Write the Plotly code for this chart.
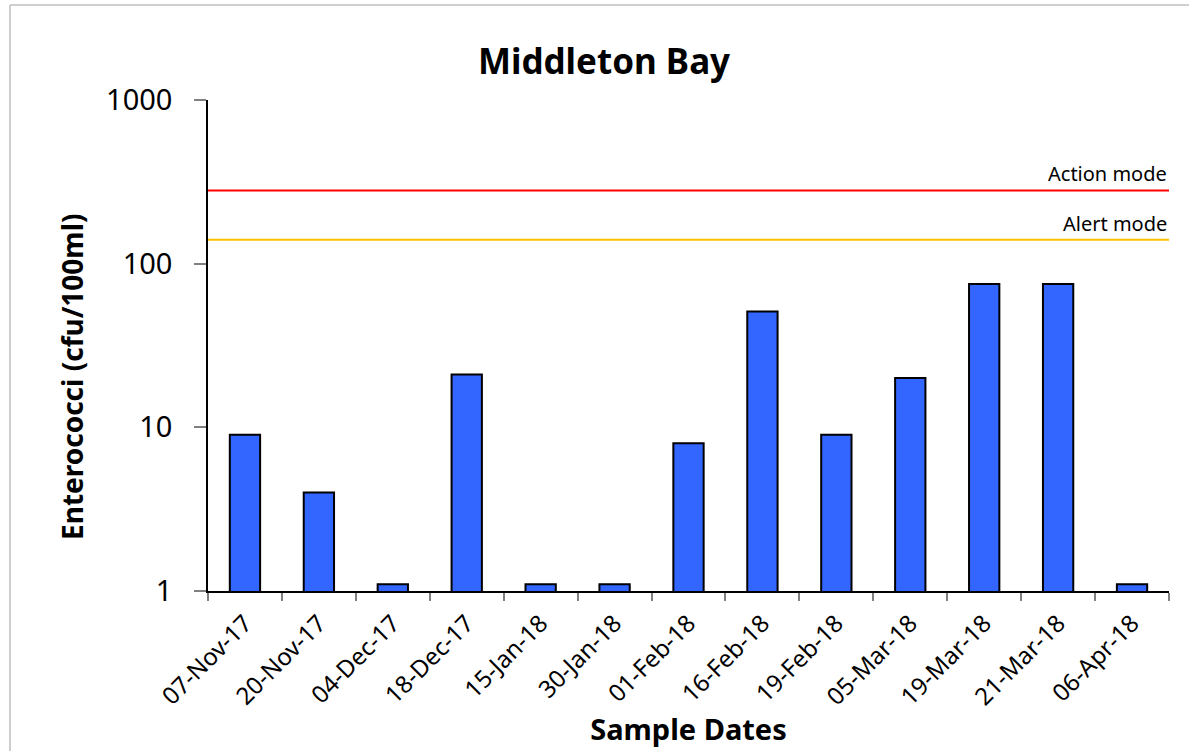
import math
import plotly.graph_objects as go

dates = ["07-Nov-17", "20-Nov-17", "04-Dec-17", "18-Dec-17", "15-Jan-18", "30-Jan-18",
         "01-Feb-18", "16-Feb-18", "19-Feb-18", "05-Mar-18", "19-Mar-18", "21-Mar-18", "06-Apr-18"]
enterococci = [9, 4, 1.1, 21, 1.1, 1.1, 8, 51, 9, 20, 75, 75, 1.1]
action_level = 280
alert_level = 140

W, H = 1189, 751
L, R, T, B = 208, 20, 100, 160
pw, ph = W - L - R, H - T - B

font = "Noto Sans, Open Sans, sans-serif"

fig = go.Figure()
fig.add_trace(go.Bar(
    x=dates, y=enterococci,
    marker=dict(color="#3366ff", line=dict(color="black", width=2)),
    width=0.41, base=0,
))

# threshold lines
fig.add_shape(type="line", xref="paper", yref="y", x0=0, x1=1,
              y0=action_level, y1=action_level, line=dict(color="#ff0000", width=2))
fig.add_shape(type="line", xref="paper", yref="y", x0=0, x1=1,
              y0=alert_level, y1=alert_level, line=dict(color="#ffc000", width=2))
fig.add_annotation(xref="paper", yref="y", x=1, y=math.log10(action_level), text="Action mode",
                   showarrow=False, xanchor="right", yanchor="bottom", yshift=1,
                   font=dict(family=font, size=20, color="black"))
fig.add_annotation(xref="paper", yref="y", x=1, y=math.log10(alert_level), text="Alert mode",
                   showarrow=False, xanchor="right", yanchor="bottom", yshift=1,
                   font=dict(family=font, size=20, color="black"))

# y-axis title placed as annotation (offset like reference)
fig.add_annotation(xref="paper", yref="paper", x=(72 - L) / pw, y=1 - (377 - T) / ph,
                   text="<b>Enterococci (cfu/100ml)</b>", textangle=-90, showarrow=False,
                   xanchor="center", yanchor="middle",
                   font=dict(family=font, size=28, color="black"))

# outer frame (left and top edges)
fx0 = (10 - L) / pw
fy1 = 1 + (T - 5) / ph
fy0 = -(B + 10) / ph
fig.add_shape(type="line", xref="paper", yref="paper", x0=fx0, x1=fx0, y0=fy0, y1=fy1,
              line=dict(color="#bfbfbf", width=1.5))
fig.add_shape(type="line", xref="paper", yref="paper", x0=fx0, x1=1.1, y0=fy1, y1=fy1,
              line=dict(color="#bfbfbf", width=1.5))

fig.update_layout(
    width=W, height=H,
    margin=dict(l=L, r=R, t=T, b=B),
    paper_bgcolor="white", plot_bgcolor="white",
    showlegend=False,
    title=dict(text="<b>Middleton Bay</b>", x=604 / W, xanchor="center",
               y=1 - 62 / H, yanchor="middle",
               font=dict(family=font, size=35, color="black")),
    font=dict(family=font, color="black"),
)
fig.update_xaxes(
    type="category", tickson="boundaries", ticks="outside", ticklen=8,
    tickcolor="#808080", tickwidth=1.5,
    showline=True, linecolor="black", linewidth=1.5, showgrid=False,
    tickangle=-45, tickfont=dict(family=font, size=24, color="black"), ticklabelstandoff=7,
    title=dict(text="<b>Sample Dates</b>", font=dict(family=font, size=29, color="black"),
               standoff=6),
)
fig.update_yaxes(
    type="log", range=[0, 3], tickvals=[1, 10, 100, 1000], ticktext=["1", "10", "100", "1000"],
    ticks="outside", ticklen=12, tickcolor="#808080", tickwidth=1.5,
    showline=True, linecolor="black", linewidth=1.5, showgrid=False, zeroline=False,
    tickfont=dict(family=font, size=29, color="black"), ticklabelstandoff=16,
)

fig.write_html("out.html", config={"displayModeBar": False},
               post_script="document.body.style.margin='0px';")
